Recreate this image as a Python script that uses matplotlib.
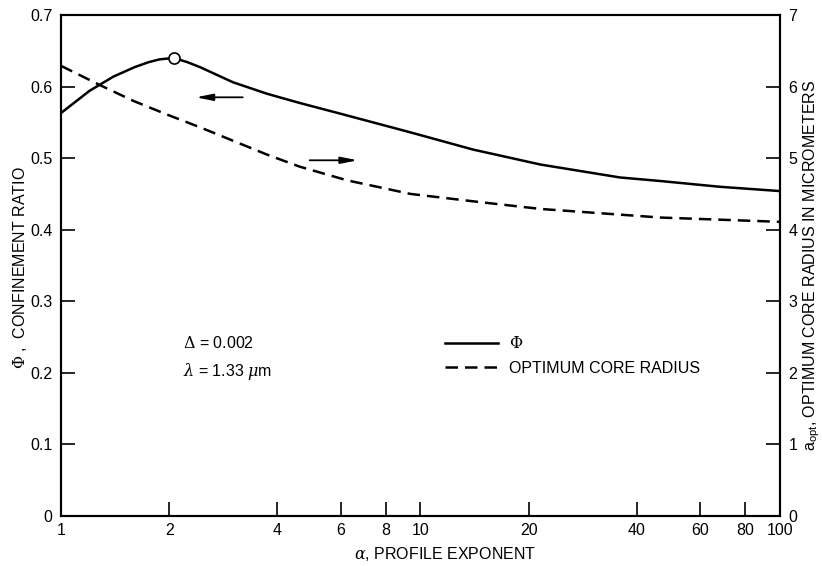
import matplotlib
matplotlib.use("Agg")
from matplotlib import pyplot as plt

plt.rcParams["font.family"] = ["Liberation Sans", "DejaVu Sans"]
plt.rcParams["mathtext.fontset"] = "dejavuserif"

# confinement ratio vs profile exponent (left axis)
alpha_phi = [1, 1.2, 1.4, 1.6, 1.75, 1.88, 2.06, 2.25, 2.44, 3.01, 3.74, 4.62,
             6, 9.38, 14, 21.6, 35.9, 46.6, 68, 100]
phi = [0.563, 0.594, 0.614, 0.627, 0.634, 0.638, 0.640, 0.634, 0.627, 0.606,
       0.590, 0.577, 0.562, 0.536, 0.512, 0.491, 0.473, 0.468, 0.460, 0.454]

# optimum core radius in micrometers (right axis)
alpha_rad = [1, 1.284, 1.59, 1.97, 2.44, 3.02, 3.74, 4.62, 6.25, 9.38, 14.4,
             21.6, 46.6, 100]
radius = [6.29, 6.02, 5.80, 5.61, 5.43, 5.24, 5.05, 4.88, 4.69, 4.50, 4.39,
          4.29, 4.17, 4.11]

peak_alpha, peak_phi = 2.06, 0.640

xticks = [1, 2, 4, 6, 8, 10, 20, 40, 60, 80, 100]
xticklabels = ["1", "2", "4", "6", "8", "10", "20", "40", "60", "80", "100"]
phi_ticks = [0, 0.1, 0.2, 0.3, 0.4, 0.5, 0.6, 0.7]
phi_ticklabels = ["0", "0.1", "0.2", "0.3", "0.4", "0.5", "0.6", "0.7"]
rad_ticks = [0, 1, 2, 3, 4, 5, 6, 7]

fs = 11.5

fig = plt.figure(figsize=(8.22, 5.66), dpi=100)
ax1 = fig.add_axes([0.0742, 0.0883, 0.8747, 0.8852])
ax2 = ax1.twinx()

line1, = ax1.plot(alpha_phi, phi, color="black", lw=1.8)
ax1.plot([peak_alpha], [peak_phi], "o", ms=8, mfc="white", mec="black", mew=1.2)
line2, = ax2.plot(alpha_rad, radius, color="black", lw=1.8, ls=(0, (5, 2.8)))

ax1.set_xscale("log")
ax1.set_xlim(1, 100)
ax1.set_ylim(0, 0.7)
ax2.set_ylim(0, 7)
ax1.set_xticks(xticks)
ax1.set_xticklabels(xticklabels)
ax1.xaxis.set_minor_locator(matplotlib.ticker.NullLocator())
ax1.set_yticks(phi_ticks)
ax1.set_yticklabels(phi_ticklabels)
ax2.set_yticks(rad_ticks)
ax2.set_yticklabels([str(t) for t in rad_ticks])

for ax in (ax1, ax2):
    for s in ax.spines.values():
        s.set_linewidth(1.5)
ax1.tick_params(axis="x", direction="in", length=10, width=1.2, pad=5, labelsize=fs)
ax1.tick_params(axis="y", direction="in", length=10, width=1.2, pad=6, labelsize=fs)
ax2.tick_params(axis="y", direction="in", length=10, width=1.2, pad=6, labelsize=fs)

ax1.set_xlabel(r"$\alpha$, PROFILE EXPONENT", fontsize=fs)
ax1.xaxis.set_label_coords(0.534, -0.058)
ax1.set_ylabel(r"$\Phi$ ,  CONFINEMENT RATIO", fontsize=fs)
ax1.yaxis.set_label_coords(-0.045, 0.495)
ax2.set_ylabel(r"a$_{\mathregular{opt}}$, OPTIMUM CORE RADIUS IN MICROMETERS",
               fontsize=fs, rotation=90)
ax2.yaxis.set_label_coords(1.03, 0.5)

# arrows pointing to each curve's axis
arrow = dict(arrowstyle="-|>,head_length=1.0,head_width=0.2", color="black", lw=1.3)
ax1.annotate("", xy=(2.33, 0.585), xytext=(3.26, 0.585), arrowprops=arrow)
ax2.annotate("", xy=(6.81, 4.97), xytext=(4.83, 4.97), arrowprops=arrow)

ax1.text(0.170, 0.345, r"$\Delta$ = 0.002", transform=ax1.transAxes,
         fontsize=fs, va="center")
ax1.text(0.170, 0.289, r"$\lambda$ = 1.33 $\mu$m", transform=ax1.transAxes,
         fontsize=fs, va="center")

ax2.legend([line1, line2], [r"$\Phi$", "OPTIMUM CORE RADIUS"], loc="center left",
           bbox_to_anchor=(0.534, 0.32), frameon=False, fontsize=fs,
           handlelength=3.3, handletextpad=0.7, borderpad=0, borderaxespad=0,
           labelspacing=0.6)

plt.savefig("out.png", dpi=100)
